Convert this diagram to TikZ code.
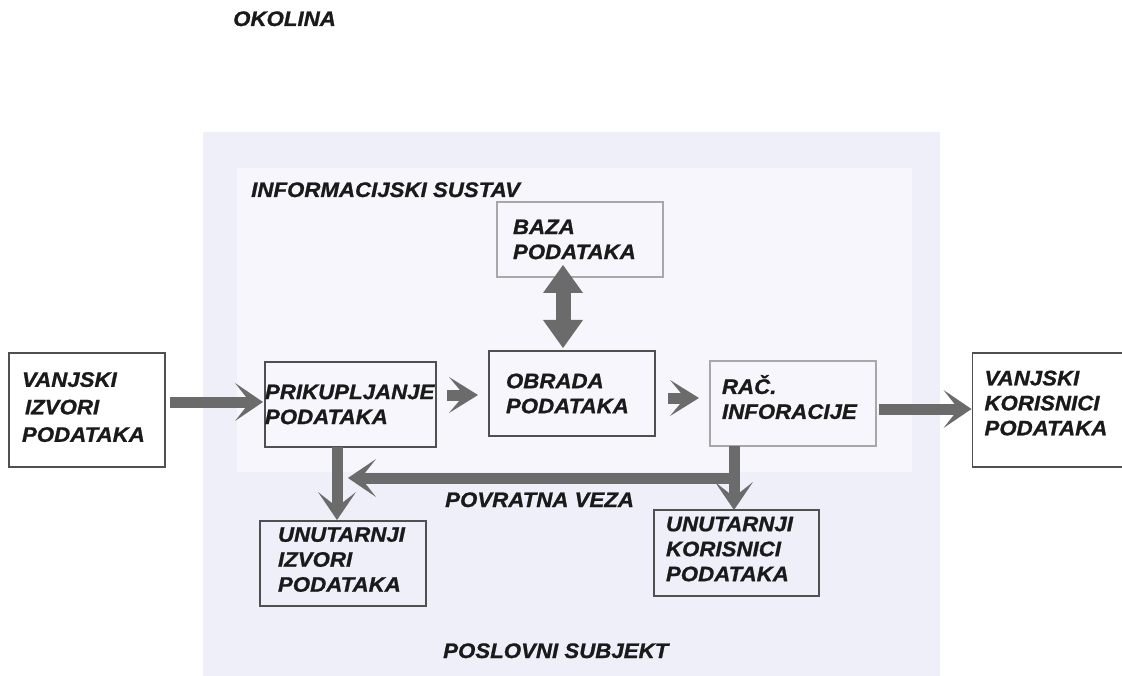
\documentclass[tikz,border=0pt]{standalone}
\usepackage{fontspec}
\setmainfont{Liberation Sans}[BoldItalicFeatures={FakeStretch=1.06,FakeBold=1}]
\usetikzlibrary{arrows.meta}
\definecolor{outerbg}{HTML}{EEEFF9}
\definecolor{innerbg}{HTML}{F6F6FC}
\definecolor{arrowgray}{HTML}{6B6B6B}
\definecolor{darkborder}{HTML}{505050}
\definecolor{lightborder}{HTML}{A8A8A8}
\definecolor{txt}{HTML}{1A1A1A}
\begin{document}
\begin{tikzpicture}[x=1pt,y=-1pt,
  every node/.style={font=\fontsize{21}{25}\selectfont\bfseries\itshape, text=txt},
  box/.style={draw=darkborder, line width=1.8pt, align=left, inner ysep=0pt, outer sep=0pt},
  lightbox/.style={box, draw=lightborder, line width=1.3pt},
  lbl/.style={inner sep=0pt, anchor=base west},
  chev/.style={draw=arrowgray, line width=11pt,
    -{Stealth[length=28pt,width=38pt,inset=15pt,line width=0pt]}},
  smallchev/.style={draw=arrowgray, line width=11pt,
    -{Stealth[length=29pt,width=36pt,inset=15pt,line width=0pt]}},
  dblarrow/.style={draw=arrowgray, line width=15pt,
    {Triangle[length=28pt,width=40pt,line width=0pt]}-{Triangle[length=28pt,width=40pt,line width=0pt]}}
]
\useasboundingbox (0,0) rectangle (1122,676);
\fill[white] (0,0) rectangle (1122,676);
% business subject and information system areas
\fill[outerbg] (203,132) rectangle (940,676);
\fill[innerbg] (237,168) rectangle (912,472);

% labels
\node[lbl] (okolina) at (233,26) {OKOLINA};
\node[lbl] (infsus) at (251,197) {INFORMACIJSKI SUSTAV};
\node[lbl] (povrat) at (445,507) {POVRATNA VEZA};
\node[lbl] (poslov) at (443,658) {POSLOVNI SUBJEKT};

% boxes
\node[box, minimum height=114pt, inner xsep=13pt, text width=130pt,
      font=\fontsize{21}{27.5}\selectfont\bfseries\itshape] (vizv) at (87,410)
  {VANJSKI\\\hspace*{3pt}IZVORI\\PODATAKA\rule[-6pt]{0pt}{6pt}};
\node[box, minimum height=85pt, inner xsep=0pt, text width=171pt] (prik) at (350.5,404.5)
  {PRIKUPLJANJE\\PODATAKA};
\node[box, minimum height=85pt, inner xsep=17pt, text width=132pt] (obrada) at (572,393.5)
  {OBRADA\\PODATAKA};
\node[lightbox, minimum height=85pt, inner xsep=12pt, text width=142pt] (rac) at (793,403.5)
  {RAČ.\\INFORACIJE\rule[-13pt]{0pt}{13pt}};
\node[box, minimum height=114pt, inner xsep=12pt, text width=145pt] (vkor) at (1057,410)
  {VANJSKI\\KORISNICI\\PODATAKA\rule[-14pt]{0pt}{14pt}};
\node[lightbox, minimum height=75pt, inner xsep=16pt, text width=134pt] (baza) at (580,239.5)
  {BAZA\\PODATAKA};
\node[box, minimum height=85pt, inner xsep=18pt, text width=130pt] (uizv) at (343,563.5)
  {UNUTARNJI\\IZVORI\\PODATAKA\rule[-8pt]{0pt}{8pt}};
\node[box, minimum height=86pt, inner xsep=12pt, text width=141pt] (ukor) at (736.5,553)
  {UNUTARNJI\\KORISNICI\\PODATAKA\rule[-8pt]{0pt}{8pt}};

% connectors
\draw[chev] ([xshift=5pt,yshift=8pt]vizv.east) -- ([xshift=-2pt,yshift=2.5pt]prik.west);
\draw[smallchev] ([xshift=11pt,yshift=9.5pt]prik.east) -- ([xshift=-11pt,yshift=-1.5pt]obrada.west);
\draw[smallchev] ([xshift=13pt,yshift=-4.5pt]obrada.east) -- ([xshift=-11pt,yshift=5.5pt]rac.west);
\draw[chev] ([xshift=3pt,yshift=-5.5pt]rac.east) -- ([xshift=-1pt,yshift=1pt]vkor.west);
\draw[chev] ([xshift=-13.5pt]prik.south) -- ([xshift=-6pt,yshift=1pt]uizv.north);
\draw[chev] ([xshift=-59pt]rac.south) -- ([xshift=-2.5pt]ukor.north);
\coordinate (fbstart) at (733,478);
\coordinate (fbend) at (348,478);
\draw[chev] (fbstart) -- (fbend);
\draw[dblarrow] ([xshift=-17pt,yshift=12pt]baza.south) -- ([xshift=-9pt,yshift=3pt]obrada.north);
\end{tikzpicture}
\end{document}
